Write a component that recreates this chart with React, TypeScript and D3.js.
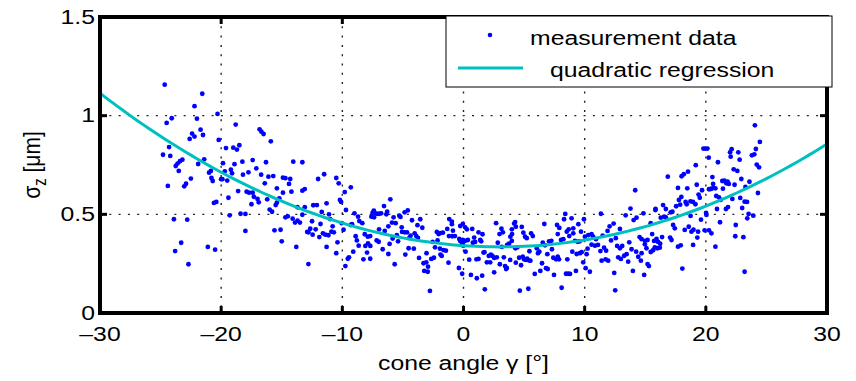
import React from "react";
import * as d3 from "d3";

// cone angle γ [°], σz [µm]
const measurementData: [number, number][] = [
  [-24.66,1.157],[-21.56,1.111],[-22.2,1.048],[-20.3,1.009],[-24.08,0.987],[-22.0,0.985],[-24.5,0.963],[-18.8,0.955],
  [-21.7,0.929],[-16.83,0.931],[-16.68,0.919],[-16.5,0.907],[-22.4,0.909],[-22.2,0.894],[-21.5,0.902],[-22.6,0.882],
  [-20.2,0.877],[-15.9,0.870],[-24.3,0.841],[-19.6,0.836],[-19.0,0.838],[-18.7,0.828],[-18.5,0.850],[-24.8,0.802],
  [-24.2,0.796],[-21.4,0.779],[-23.2,0.777],[-23.4,0.769],[-23.6,0.757],[-23.75,0.745],[-17.4,0.775],[-18.25,0.767],
  [-16.3,0.764],[-14.05,0.767],[-13.3,0.764],[-21.9,0.755],[-19.85,0.759],[-18.9,0.754],[-17.1,0.733],[-23.5,0.720],
  [-21.0,0.711],[-20.85,0.720],[-19.2,0.726],[-19.1,0.708],[-19.7,0.718],[-17.75,0.713],[-18.2,0.701],[-16.7,0.701],
  [-16.1,0.691],[-15.7,0.694],[-14.9,0.686],[-14.7,0.683],[-14.3,0.679],[-12.0,0.679],[-11.5,0.703],[-10.5,0.684],
  [-10.3,0.657],[-22.5,0.681],[-20.8,0.684],[-20.7,0.669],[-20.0,0.678],[-19.9,0.678],[-19.5,0.671],[-24.4,0.644],
  [-22.9,0.655],[-23.05,0.642],[-16.4,0.657],[-15.4,0.632],[-14.4,0.654],[-14.9,0.610],[-14.2,0.615],[-18.6,0.618],
  [-17.9,0.615],[-17.7,0.610],[-9.3,0.637],[-9.8,0.613],[-13.3,0.620],[-13.1,0.628],[-17.4,0.610],
  [-19.4,0.584],[-20.6,0.558],[-20.4,0.563],[-17.5,0.551],[-17.3,0.589],[-17.0,0.578],[-16.9,0.561],[-16.2,0.576],
  [-15.2,0.581],[-15.4,0.559],[-15.5,0.547],[-19.3,0.495],[-18.4,0.503],[-18.0,0.502],[-16.0,0.524],[-15.8,0.513],
  [-23.9,0.475],[-22.8,0.473],[-18.0,0.416],[-14.7,0.485],[-14.5,0.490],[-14.1,0.478],[-13.7,0.536],[-13.1,0.536],
  [-12.4,0.546],[-12.1,0.547],[-11.3,0.556],[-11.7,0.512],[-11.1,0.500],[-13.7,0.468],[-13.5,0.458],[-13.9,0.458],
  [-12.5,0.465],[-13.3,0.498],[-11.8,0.451],[-11.0,0.476],[-10.8,0.439],[-15.6,0.419],[-15.1,0.422],[-15.0,0.363],
  [-12.9,0.411],[-12.8,0.409],[-12.65,0.427],[-12.45,0.397],[-12.2,0.424],[-11.6,0.404],[-11.4,0.397],[-11.15,0.394],
  [-11.9,0.385],[-10.9,0.412],[-10.7,0.409],[-13.8,0.335],[-11.3,0.335],[-10.4,0.358],[-10.5,0.303],[-23.3,0.356],
  [-23.8,0.314],[-21.1,0.335],[-20.5,0.321],[-22.7,0.247],[-12.8,0.248],[-10.2,0.573],[-10.1,0.563],[-9.7,0.522],
  [-9.0,0.505],[-8.7,0.488],[-8.6,0.466],[-10.05,0.455],[-9.9,0.422],[-9.3,0.446],[-9.2,0.450],[-8.9,0.389],
  [-8.8,0.368],[-8.65,0.341],[-9.1,0.311],[-9.45,0.282],[-9.55,0.275],[-9.75,0.238],
  [-6.04,0.576],[-6.56,0.542],[-6.3,0.513],[-6.37,0.500],[-7.4,0.519],[-7.5,0.508],[-7.27,0.505],[-7.13,0.502],
  [-6.97,0.503],[-6.8,0.505],[-7.6,0.488],[-7.38,0.485],[-8.35,0.455],[-5.77,0.485],[-5.3,0.493],[-5.2,0.487],
  [-4.86,0.510],[-4.6,0.520],[-5.9,0.458],[-5.6,0.455],[-6.2,0.439],[-6.5,0.416],[-5.1,0.434],[-4.25,0.470],
  [-3.57,0.475],[-3.8,0.445],[-3.4,0.432],[-5.07,0.411],[-4.86,0.409],[-4.66,0.409],[-5.5,0.394],[-4.03,0.404],
  [-3.9,0.390],[-3.76,0.380],[-4.47,0.380],[-4.37,0.392],[-5.85,0.377],[-6.1,0.350],[-5.4,0.363],[-7.17,0.368],
  [-7.0,0.361],[-6.67,0.323],[-7.88,0.353],[-7.69,0.340],[-8.1,0.340],[-7.96,0.306],[-8.26,0.272],[-7.7,0.275],
  [-6.2,0.299],[-5.68,0.247],[-4.8,0.296],[-4.53,0.328],[-4.1,0.326],[-3.67,0.279],[-3.05,0.303],[-3.3,0.252],
  [-3.07,0.257],[-3.24,0.213],[-2.95,0.209],[-2.93,0.235],[-2.66,0.274],[-2.44,0.280],[-2.55,0.360],[-2.14,0.368],
  [-2.35,0.333],[-2.2,0.411],[-2.06,0.400],[-1.9,0.405],[-1.7,0.407],[-1.34,0.426],[-0.96,0.450],[-0.87,0.417],
  [-1.18,0.476],[-0.96,0.463],[-1.2,0.390],[-0.93,0.389],[-0.71,0.390],[-0.35,0.375],[-0.16,0.360],[-0.08,0.353],
  [-0.02,0.341],[-1.94,0.326],[-1.65,0.319],[-1.45,0.316],[-1.9,0.296],[-1.8,0.289],[-1.24,0.255],[-0.38,0.228],
  [-0.11,0.199],[-2.77,0.112],[-8.15,0.399],[-7.9,0.387],[-7.7,0.390],[-6.97,0.424],
  [-0.27,0.441],[-0.05,0.451],[0.14,0.434],[0.28,0.424],[0.72,0.426],[-0.27,0.365],[-0.05,0.370],[0.14,0.366],
  [0.36,0.370],[0.88,0.382],[0.77,0.356],[0.96,0.360],[1.24,0.409],[1.38,0.370],[1.57,0.399],[1.46,0.363],
  [1.07,0.272],[1.24,0.274],[0.47,0.270],[0.17,0.311],[0.61,0.193],[1.54,0.189],[1.1,0.176],[1.76,0.120],
  [1.65,0.306],[1.73,0.308],[1.93,0.257],[2.2,0.257],[2.09,0.289],[2.26,0.296],[2.39,0.289],[2.53,0.279],
  [2.75,0.282],[2.53,0.206],[2.69,0.455],[2.97,0.400],[3.13,0.427],[3.25,0.409],[2.83,0.356],[3.16,0.335],
  [3.33,0.282],[3.0,0.247],[3.43,0.238],[3.57,0.228],[3.52,0.223],[3.85,0.269],[3.6,0.345],[3.76,0.351],
  [3.99,0.365],[3.87,0.387],[4.01,0.400],[3.99,0.424],[4.18,0.453],[4.26,0.461],[4.32,0.437],[4.28,0.328],
  [4.45,0.333],[4.32,0.255],[4.59,0.280],[4.75,0.242],[4.89,0.285],[5.0,0.272],[4.81,0.436],[4.94,0.407],
  [5.08,0.387],[5.22,0.379],[4.65,0.113],[5.35,0.123],[5.14,0.269],[5.25,0.275],[5.39,0.267],[5.52,0.265],
  [5.58,0.404],[5.72,0.390],[5.44,0.313],[5.88,0.198],[6.05,0.328],[6.15,0.303],[6.26,0.311],[6.34,0.213],
  [6.54,0.356],[6.67,0.451],[6.48,0.252],[6.73,0.343],[6.92,0.298],[6.81,0.227],[6.95,0.223],[7.06,0.363],
  [7.25,0.366],[7.41,0.280],[7.64,0.272],[7.78,0.285],[7.3,0.323],[7.47,0.193],[7.72,0.446],[7.91,0.431],
  [7.78,0.400],[8.05,0.370],[8.24,0.374],[7.88,0.272],[8.1,0.128],[8.4,0.502],[8.3,0.475],[8.52,0.412],
  [8.68,0.424],[8.57,0.272],[8.46,0.199],[8.65,0.199],
  [8.73,0.390],[9.06,0.429],[9.06,0.404],[8.92,0.480],[8.79,0.198],[9.28,0.213],[8.98,0.311],[9.2,0.366],
  [9.42,0.361],[9.59,0.363],[9.34,0.299],[9.61,0.303],[9.75,0.308],[9.7,0.412],[9.48,0.450],[9.94,0.475],
  [9.88,0.257],[10.08,0.227],[10.16,0.298],[10.02,0.387],[10.3,0.395],[10.57,0.399],[10.7,0.387],[10.93,0.374],
  [10.43,0.209],[10.24,0.326],[10.57,0.346],[10.85,0.341],[11.1,0.345],[11.3,0.314],[11.6,0.331],[11.77,0.316],
  [11.4,0.265],[11.73,0.272],[11.94,0.265],[11.48,0.392],[11.89,0.416],[12.06,0.439],[12.39,0.453],[11.34,0.503],
  [12.44,0.203],[12.52,0.115],[12.18,0.368],[12.57,0.379],[12.91,0.426],[12.68,0.340],[12.91,0.328],[13.1,0.340],
  [12.77,0.282],[12.99,0.274],[13.26,0.290],[13.46,0.298],[13.59,0.260],[13.38,0.495],[14.04,0.471],[14.28,0.483],
  [13.68,0.358],[13.87,0.323],[13.98,0.213],[14.25,0.311],[14.42,0.285],[14.64,0.265],[14.53,0.385],[14.7,0.374],
  [14.97,0.366],[15.19,0.370],[14.85,0.505],[14.7,0.303],[14.97,0.348],[15.1,0.328],[14.91,0.193],[15.19,0.248],
  [15.3,0.238],[15.45,0.455],[15.57,0.400],[15.73,0.365],[15.93,0.375],[16.06,0.360],[16.23,0.351],[15.45,0.309],
  [15.65,0.318],[15.79,0.333],[16.0,0.328],[16.2,0.331],[16.39,0.385],[15.84,0.522],[16.28,0.483],[16.56,0.488],
  [16.7,0.485],[17.1,0.510],[17.24,0.513],[17.05,0.382],[17.17,0.370],[17.3,0.446],[17.44,0.429],[17.7,0.336],
  [17.93,0.343],[18.06,0.225],[18.26,0.421],[18.59,0.437],[18.98,0.422],[18.81,0.412],[18.74,0.492],[18.95,0.345],
  [19.3,0.382],[19.36,0.412],[19.6,0.473],[20.02,0.507],[20.05,0.497],[19.9,0.419],[20.26,0.419],[20.46,0.404],
  [20.79,0.336],[20.92,0.527],[21.17,0.460],[22.47,0.446],[22.43,0.389],[23.1,0.384],[23.2,0.209],[23.42,0.480],
  [23.53,0.502],[23.92,0.493],
  [24.05,0.951],[24.46,0.867],[24.13,0.831],[23.8,0.799],[24.0,0.804],[24.2,0.752],[24.39,0.738],[24.3,0.608],
  [19.8,0.833],[19.96,0.833],[20.13,0.833],[20.24,0.787],[21.0,0.764],[22.0,0.814],[22.13,0.830],[22.05,0.792],
  [22.68,0.814],[22.79,0.777],[19.17,0.749],[22.3,0.728],[22.6,0.720],[20.54,0.689],[18.53,0.716],[18.0,0.693],
  [18.18,0.703],[16.86,0.691],[14.17,0.622],[21.36,0.669],[21.53,0.671],[21.69,0.657],[21.8,0.665],[21.9,0.654],
  [22.93,0.679],[20.6,0.654],[20.65,0.634],[20.79,0.632],[20.26,0.627],[20.38,0.628],[20.46,0.630],[21.41,0.630],
  [22.37,0.650],[23.27,0.639],[23.6,0.665],[19.25,0.650],[19.69,0.622],[19.4,0.600],[19.5,0.584],[18.47,0.632],
  [17.7,0.634],[17.98,0.588],[17.78,0.573],[18.33,0.563],[18.42,0.551],[18.73,0.566],[18.94,0.563],[19.14,0.551],
  [17.55,0.541],[17.88,0.549],[16.47,0.547],[15.85,0.527],[16.7,0.527],[13.78,0.529],[20.86,0.593],[21.08,0.586],
  [21.22,0.573],[22.19,0.578],[22.84,0.583],[23.0,0.532],[23.2,0.564],[23.4,0.563],[21.66,0.527],[21.83,0.537],
];

// quadratic regression σ = c0 + c1·γ + c2·γ²
const regressionCoeffs = [0.3414, -0.00429, 0.000715];
const regressionRange = [-30, 30];

const xTicks = [-30, -20, -10, 0, 10, 20, 30];
const yTicks = [0, 0.5, 1, 1.5];
const xTickLabels = ["\u201330", "\u201320", "\u201310", "0", "10", "20", "30"];
const yTickLabels = ["0", "0.5", "1", "1.5"];
const legendLabels = ["measurement data", "quadratic regression"];

const W = 856;
const H = 381;
const L = 100, R = 827, T = 17, B = 313;
const FONT = "'Liberation Sans', Arial, Helvetica, sans-serif";
const SX = 1.18;
const FS = 21;

export default function App() {
  const x = d3.scaleLinear().domain([-30, 30]).range([L, R]);
  const y = d3.scaleLinear().domain([0, 1.5]).range([B, T]);

  const curvePts: [number, number][] = d3
    .range(regressionRange[0], regressionRange[1] + 0.001, 0.5)
    .map((g) => [g, regressionCoeffs[0] + regressionCoeffs[1] * g + regressionCoeffs[2] * g * g]);
  const line = d3
    .line<[number, number]>()
    .x((d) => x(d[0]))
    .y((d) => y(d[1]));

  const stretched = (tx: number, ty: number) => `translate(${tx},${ty}) scale(${SX},1)`;
  const tickLen = 7;

  return (
    <svg
      width={W}
      height={H}
      style={{ position: "absolute", left: 0, top: 0, background: "#fff" }}
      fontFamily={FONT}
    >
      <rect x={0} y={0} width={W} height={H} fill="#fff" />
      {/* grid */}
      <g stroke="#222" strokeWidth={1.4} strokeDasharray="2,7.3">
        {xTicks.slice(1, -1).map((t) => (
          <line key={"gx" + t} x1={x(t)} x2={x(t)} y1={T} y2={B} />
        ))}
        {yTicks.slice(1, -1).map((t) => (
          <line key={"gy" + t} x1={L} x2={R} y1={y(t)} y2={y(t)} />
        ))}
      </g>
      {/* data */}
      <g fill="#0000ff">
        {measurementData.map((d, i) => (
          <circle key={i} cx={x(d[0])} cy={y(d[1])} r={2.4} />
        ))}
      </g>
      {/* regression */}
      <path d={line(curvePts) || ""} fill="none" stroke="#00bfbf" strokeWidth={3} />
      {/* axes box */}
      <rect x={L} y={T} width={R - L} height={B - T} fill="none" stroke="#000" strokeWidth={4} />
      <g stroke="#000" strokeWidth={3}>
        {xTicks.map((t) => (
          <g key={"tx" + t}>
            <line x1={x(t)} x2={x(t)} y1={B} y2={B - tickLen} />
            <line x1={x(t)} x2={x(t)} y1={T} y2={T + tickLen} />
          </g>
        ))}
        {yTicks.map((t) => (
          <g key={"ty" + t}>
            <line x1={L} x2={L + tickLen} y1={y(t)} y2={y(t)} />
            <line x1={R} x2={R - tickLen} y1={y(t)} y2={y(t)} />
          </g>
        ))}
      </g>
      {/* tick labels */}
      <g fontSize={FS} fill="#000">
        {xTicks.map((t, i) => (
          <text key={"lx" + t} transform={stretched(x(t), 341)} textAnchor="middle">
            {xTickLabels[i]}
          </text>
        ))}
        {yTicks.map((t, i) => (
          <text key={"ly" + t} transform={stretched(95, y(t) + 6.5)} textAnchor="end">
            {yTickLabels[i]}
          </text>
        ))}
      </g>
      {/* axis labels */}
      <text transform={stretched(x(0), 370)} textAnchor="middle" fontSize={FS}>
        cone angle γ [°]
      </text>
      <text
        transform={`translate(40,${(T + B) / 2}) rotate(-90) scale(1,${SX})`}
        textAnchor="middle"
        fontSize={FS}
      >
        σ<tspan fontSize={15} dy={5}>z</tspan>
        <tspan dy={-5}> [μm]</tspan>
      </text>
      {/* legend */}
      <rect x={446} y={16} width={386} height={71} fill="#fff" stroke="#000" strokeWidth={1} />
      <circle cx={490} cy={35} r={2.3} fill="#0000ff" />
      <text transform={stretched(530, 45)} fontSize={FS}>
        {legendLabels[0]}
      </text>
      <line x1={458} x2={523} y1={68} y2={68} stroke="#00bfbf" strokeWidth={3} />
      <text transform={stretched(550, 77)} fontSize={FS}>
        {legendLabels[1]}
      </text>
    </svg>
  );
}
